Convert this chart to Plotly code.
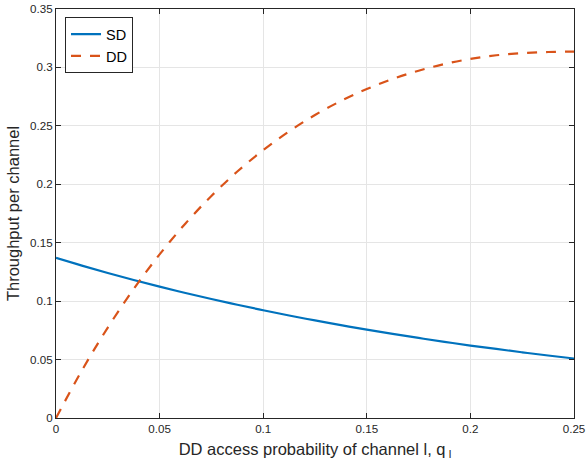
import plotly.graph_objects as go

x_vals = [0, 0.0125, 0.025, 0.0375, 0.05, 0.0625, 0.075, 0.0875, 0.1, 0.1125, 0.125,
          0.1375, 0.15, 0.1625, 0.175, 0.1875, 0.2, 0.2125, 0.225, 0.2375, 0.25]
sd_vals = [0.137, 0.1304, 0.1241, 0.1181, 0.1124, 0.1070, 0.1018, 0.0969, 0.0922, 0.0877, 0.0835,
           0.0795, 0.0756, 0.0720, 0.0685, 0.0652, 0.0620, 0.0591, 0.0562, 0.0535, 0.0509]
dd_vals = [0, 0.0407, 0.0774, 0.1104, 0.1400, 0.1665, 0.1900, 0.2109, 0.2292, 0.2453, 0.2593,
           0.2713, 0.2815, 0.2901, 0.2972, 0.3029, 0.3073, 0.3104, 0.3122, 0.3132, 0.3135]
x_ticks = [0, 0.05, 0.1, 0.15, 0.2, 0.25]
x_tick_labels = ["0", "0.05", "0.1", "0.15", "0.2", "0.25"]
y_ticks = [0, 0.05, 0.1, 0.15, 0.2, 0.25, 0.3, 0.35]
y_tick_labels = ["0", "0.05", "0.1", "0.15", "0.2", "0.25", "0.3", "0.35"]

FONT = "Liberation Sans, Arial, sans-serif"

fig = go.Figure()
fig.add_trace(go.Scatter(x=x_vals, y=sd_vals, mode="lines", name="SD",
                         line=dict(color="#0072BD", width=2.2, shape="spline")))
fig.add_trace(go.Scatter(x=x_vals, y=dd_vals, mode="lines", name="DD",
                         line=dict(color="#D95319", width=2.2, dash="10px,9px", shape="spline")))

axis_common = dict(showline=True, linecolor="#262626", linewidth=1, mirror="ticks",
                   ticks="inside", ticklen=5, tickcolor="#262626", automargin=False,
                   showgrid=True, gridcolor="#e5e5e5", gridwidth=1, zeroline=False,
                   tickfont=dict(family=FONT, size=11.6, color="#262626"))

fig.update_layout(
    width=587, height=466,
    margin=dict(l=56, r=13, t=9, b=48),
    paper_bgcolor="white", plot_bgcolor="white",
    font=dict(family=FONT, color="#262626"),
    xaxis=dict(range=[0, 0.25], tickvals=x_ticks, ticktext=x_tick_labels,
               title=dict(text="DD access probability of channel l, q<sub> l</sub>",
                          font=dict(size=16.5), standoff=9), **axis_common),
    yaxis=dict(range=[0, 0.35], tickvals=y_ticks, ticktext=y_tick_labels,
               title=dict(text="Throughput per channel", font=dict(size=16.5), standoff=6),
               **axis_common),
    legend=dict(x=0.0174, y=0.980, xanchor="left", yanchor="top",
                bgcolor="white", bordercolor="#262626", borderwidth=1,
                font=dict(size=14.5, color="#000000"), tracegroupgap=0),
    showlegend=True,
)

fig.write_html("out.html", config={"displayModeBar": False},
               post_script="document.body.style.margin='0';")
